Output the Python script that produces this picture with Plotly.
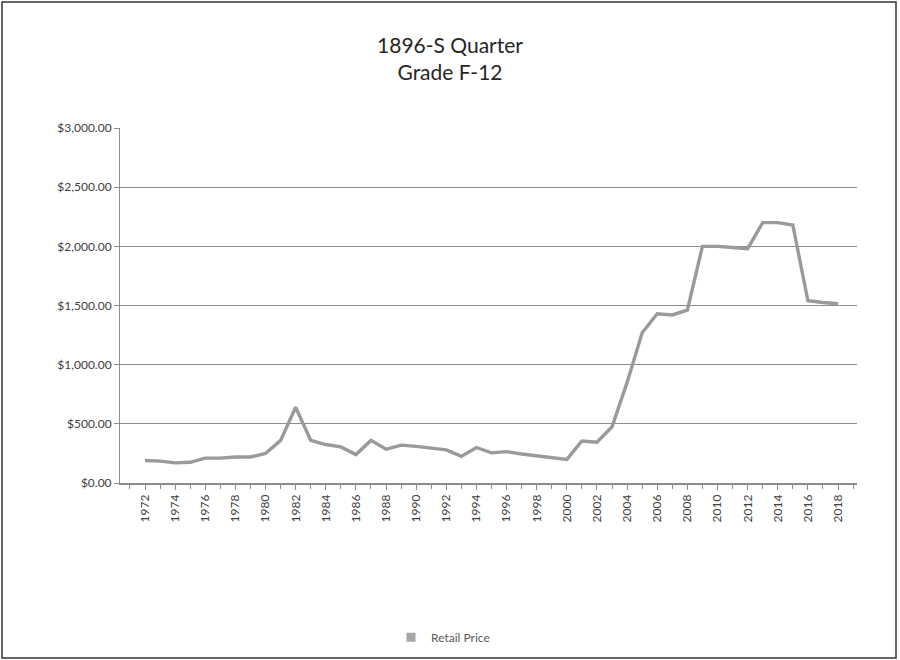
import plotly.graph_objects as go

years = list(range(1972, 2019))
retail_price = [
    190, 185, 170, 175, 210, 210, 220, 220, 250, 360,   # 1972-1981
    640, 360, 325, 305, 240, 360, 285, 320, 310, 295,   # 1982-1991
    280, 225, 300, 255, 265, 245, 230, 215, 200, 355,   # 1992-2001
    345, 475, 850, 1270, 1430, 1420, 1460, 2000, 2000, 1990,  # 2002-2011
    1980, 2200, 2200, 2180, 1540, 1525, 1515            # 2012-2018
]
y_ticks = [0, 500, 1000, 1500, 2000, 2500, 3000]
x_ticks = list(range(1972, 2019, 2))
title_lines = ["1896-S Quarter", "Grade F-12"]
series_name = "Retail Price"

FONT = "Lato, Calibri, Carlito, sans-serif"

fig = go.Figure()
fig.add_trace(go.Scatter(
    x=years, y=retail_price, mode="lines", name=series_name,
    line=dict(color="#9a9a9a", width=3.4), showlegend=False,
))
# legend key (square, as in the source)
fig.add_trace(go.Scatter(
    x=[None], y=[None], mode="markers", name=series_name,
    marker=dict(symbol="square", color="#a6a6a6", size=9),
))

fig.update_layout(
    width=900, height=660,
    paper_bgcolor="white", plot_bgcolor="white",
    margin=dict(l=120, r=43, t=128, b=177, autoexpand=False),
    font=dict(family=FONT, color="#404040"),
    title=dict(text="<br>".join(title_lines), x=0.5, xanchor="center",
               y=(660 - 53) / 660, yanchor="top",
               font=dict(family=FONT, size=21, color="#262626")),
    xaxis=dict(range=[1970.34, 2019.26], tickmode="array", tickvals=x_ticks,
               ticktext=[str(v) for v in x_ticks], tickangle=-90,
               tickfont=dict(size=12, color="#404040"),
               ticks="outside", ticklen=5, tickcolor="#8c8c8c",
               minor=dict(dtick=1, ticks="outside", ticklen=4, tickcolor="#8c8c8c", showgrid=False),
               showgrid=False, showline=True, linecolor="#8c8c8c", linewidth=1.5,
               zeroline=False),
    yaxis=dict(range=[0, 3000], tickmode="array", tickvals=y_ticks,
               tickformat="$,.2f", tickfont=dict(size=12, color="#404040"),
               showgrid=True, gridcolor="#8c8c8c", gridwidth=1.2,
               ticks="outside", ticklen=5, tickcolor="#8c8c8c",
               showline=True, linecolor="#8c8c8c", linewidth=1,
               zeroline=False),
    legend=dict(orientation="h", x=(443 - 120) / 737, xanchor="center",
                y=-0.394, yanchor="top",
                font=dict(size=12, color="#595959"), itemwidth=30),
    shapes=[dict(type="rect", xref="paper", yref="paper",
                 x0=(2 - 120) / 737, x1=(896 - 120) / 737,
                 y0=-175 / 355, y1=481 / 355,
                 line=dict(color="#333333", width=1.5))],
)

fig.write_html("out.html", config={"displayModeBar": False},
               post_script="document.body.style.margin='0px';")
